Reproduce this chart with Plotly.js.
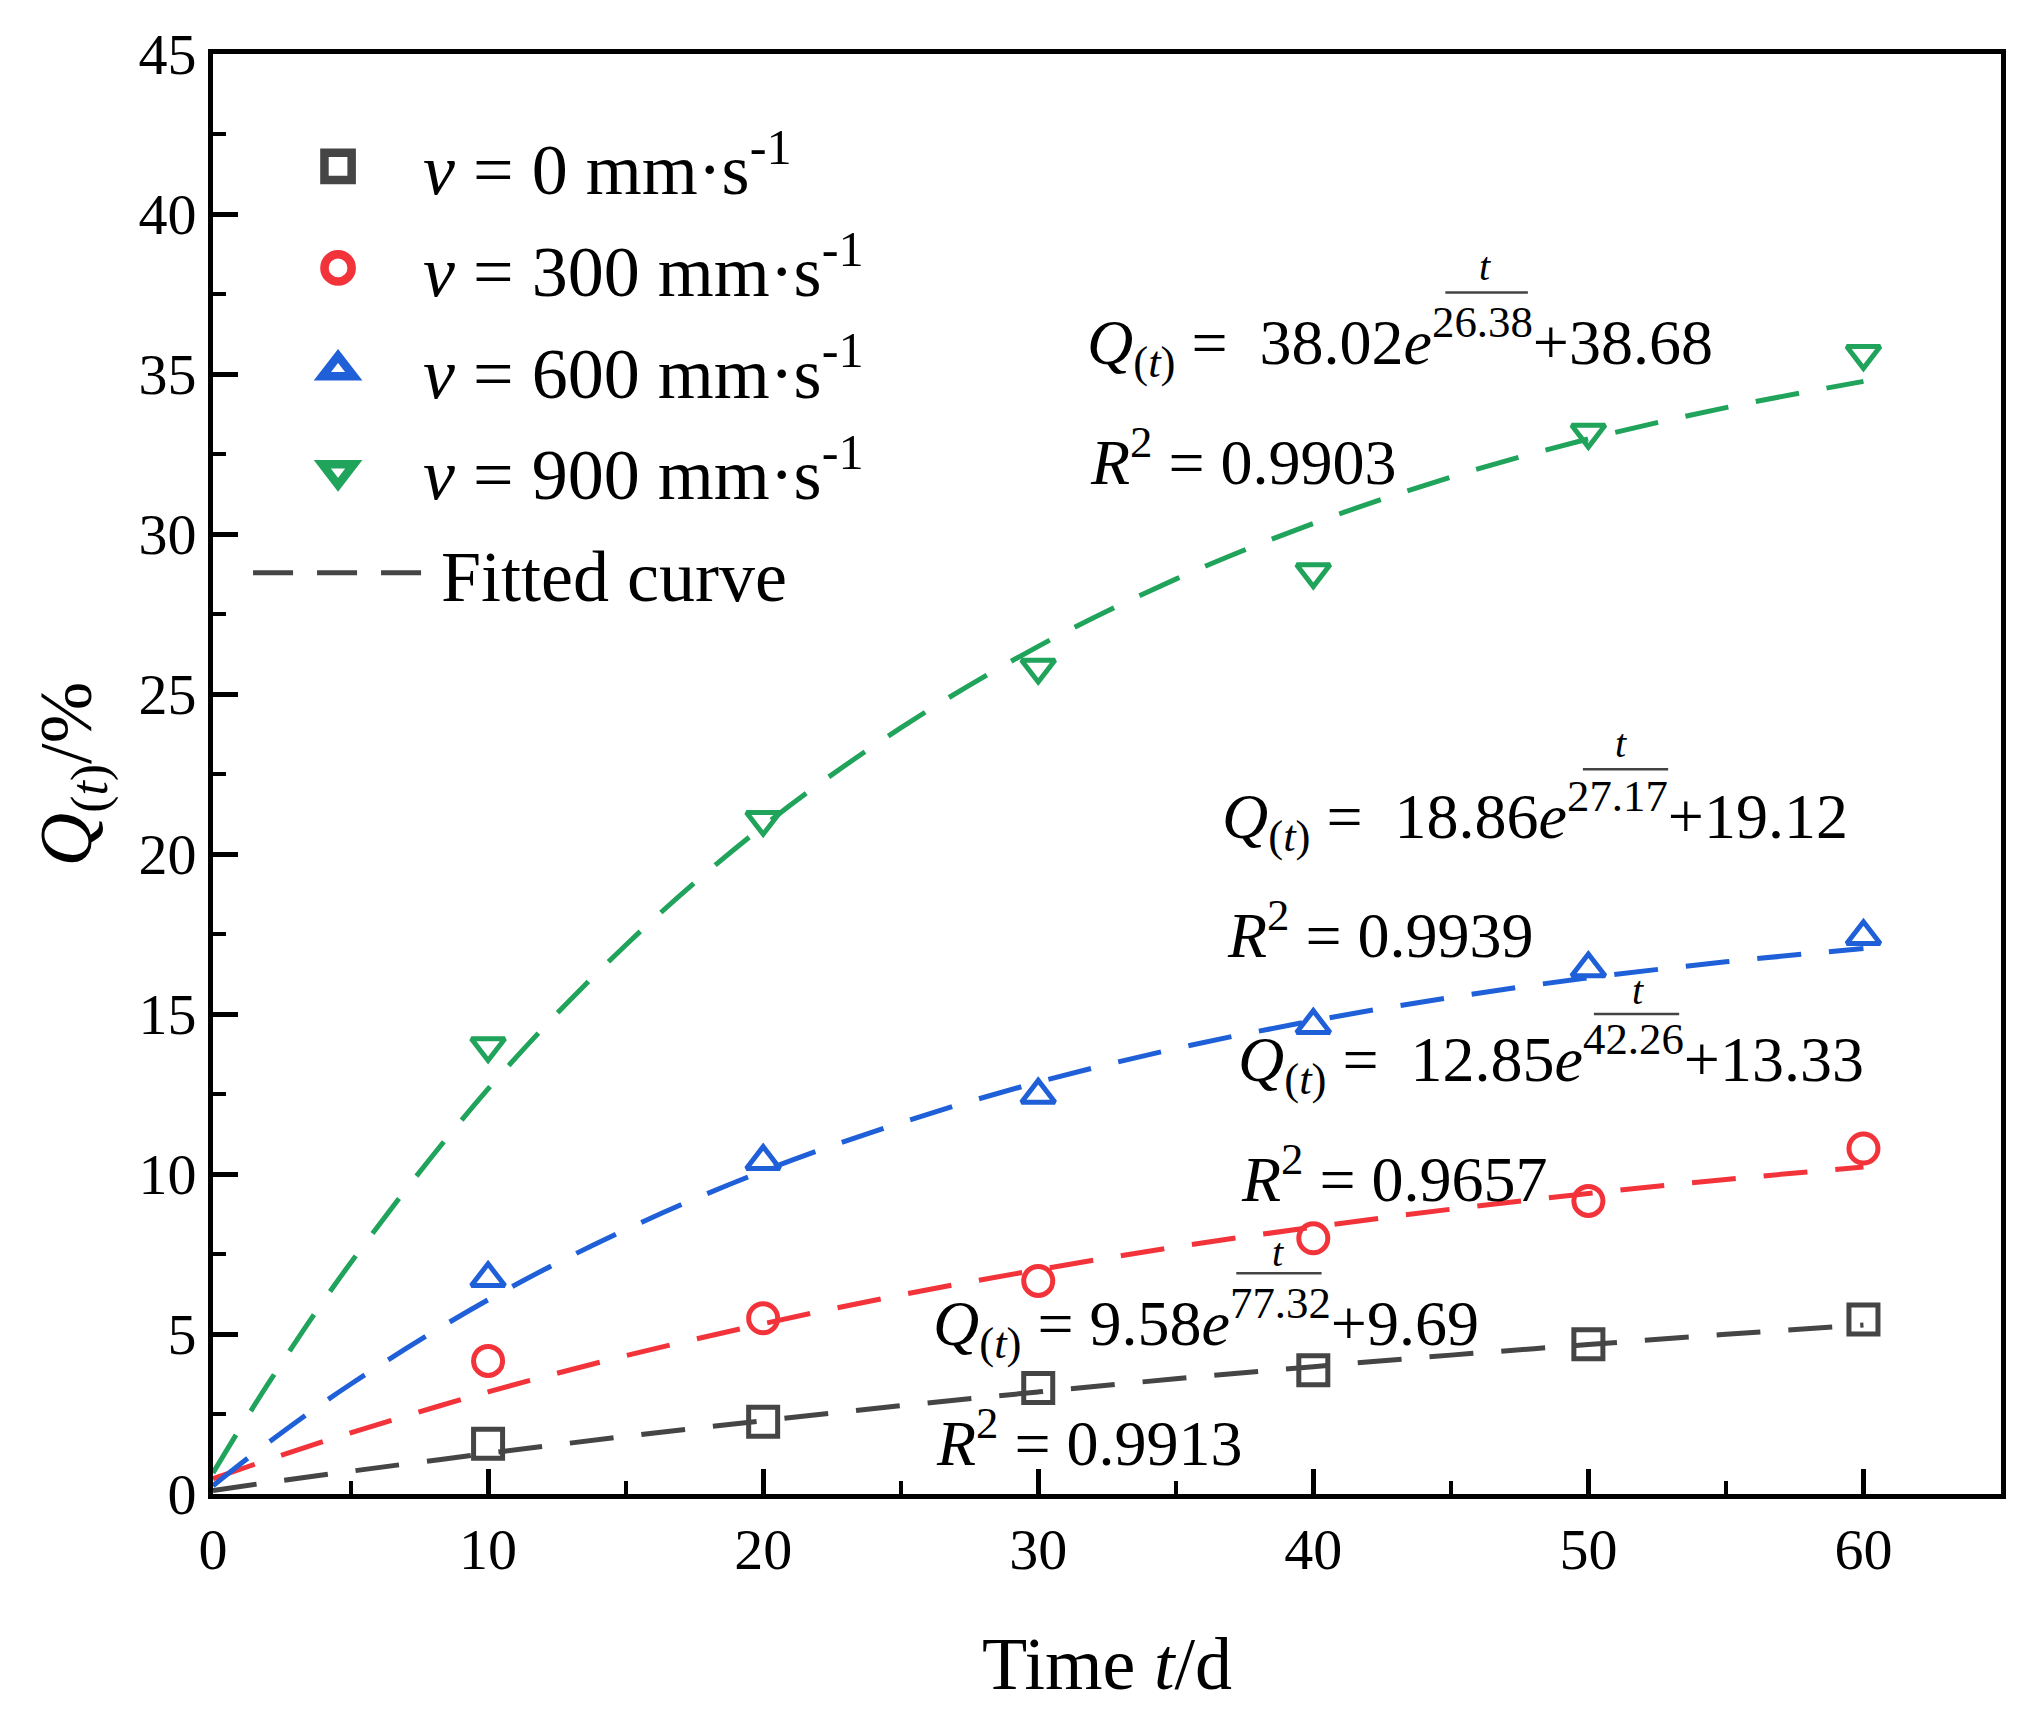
<!DOCTYPE html>
<html>
<head>
<meta charset="utf-8">
<script src="https://cdn.plot.ly/plotly-3.0.1.min.js"></script>
<style>body{margin:0;background:#fff;}</style>
</head>
<body>
<div id="chart" style="width:2024px;height:1713px;"></div>
<script>
// Measured data (time in days)
const days = [10, 20, 30, 40, 50, 60];
const q0   = [1.57, 2.26, 3.31, 3.87, 4.68, 5.45];
const q300 = [4.16, 5.49, 6.66, 7.99, 9.16, 10.80];
const q600 = [6.74, 10.40, 12.47, 14.65, 16.42, 17.43];
const q900 = [14.00, 21.07, 25.83, 28.81, 33.17, 35.63];

// Fitted curves
const fitT    = [0, 2, 5, 10, 15, 20, 25, 30, 35, 40, 45, 50, 55, 60];
const fit0    = [0.11, 0.36, 0.71, 1.27, 1.80, 2.29, 2.76, 3.19, 3.60, 3.98, 4.34, 4.67, 4.99, 5.28];
const fit300  = [0.48, 1.07, 1.91, 3.19, 4.32, 5.32, 6.22, 7.01, 7.72, 8.34, 8.90, 9.39, 9.83, 10.22];
const fit600  = [0.26, 1.60, 3.43, 6.07, 8.26, 10.09, 11.60, 12.87, 13.92, 14.79, 15.52, 16.13, 16.63, 17.05];
const fit900  = [0.66, 3.44, 7.22, 12.66, 17.15, 20.87, 23.94, 26.49, 28.59, 30.33, 31.78, 32.97, 33.95, 34.77];

const seriesNames = [
  '<i>v</i> = 0 mm·s<sup>-1</sup>',
  '<i>v</i> = 300 mm·s<sup>-1</sup>',
  '<i>v</i> = 600 mm·s<sup>-1</sup>',
  '<i>v</i> = 900 mm·s<sup>-1</sup>'
];
const fitLabel = '\u00A0Fitted curve';

// Equation texts
const eqCoefA = ['9.58', '12.85', '18.86', '38.02'];
const eqTau   = ['77.32', '42.26', '27.17', '26.38'];
const eqCoefB = ['9.69', '13.33', '19.12', '38.68'];
const eqR2    = ['0.9913', '0.9657', '0.9939', '0.9903'];

const colors = ['#454545', '#f2333a', '#1f60d8', '#20a35a'];
const symbols = ['square-open', 'circle-open', 'triangle-up-open', 'triangle-down-open'];
const dataSets = [q0, q300, q600, q900];
const fitSets = [fit0, fit300, fit600, fit900];

const FONT = 'Liberation Serif, Times New Roman, serif';
const traces = [];
for (let i = 0; i < 4; i++) {
  traces.push({
    x: fitT, y: fitSets[i], mode: 'lines', type: 'scatter',
    line: {color: colors[i], width: 5, dash: '44px,28px', shape: 'spline'},
    showlegend: false, hoverinfo: 'skip'
  });
}
for (let i = 0; i < 4; i++) {
  traces.push({
    x: days, y: dataSets[i], mode: 'markers', type: 'scatter',
    name: seriesNames[i], legendgroup: 'g' + i,
    marker: {symbol: symbols[i], size: 29, color: colors[i], line: {color: colors[i], width: 5}}
  });
}
traces.push({
  x: [null], y: [null], mode: 'lines', type: 'scatter', name: fitLabel, legendgroup: 'g4',
  line: {color: '#454545', width: 5, dash: '40px,24px'}
});

// annotation positions (data coords)
const eqPos = [[26.1, 5.34], [37.2, 13.6], [36.6, 21.2], [31.7, 36.0]];
const r2Pos = [[26.2, 1.72], [37.3, 9.97], [36.8, 17.6], [31.8, 32.4]];
const tPos  = [[38.7, 7.55], [51.8, 15.75], [51.2, 23.45], [46.25, 38.35]];
const barX  = [[37.2, 40.3], [50.2, 53.3], [49.8, 52.9], [44.8, 47.8]];
const barY  = [6.9, 15.0, 22.65, 37.55];

const annotations = [];
const shapes = [];
for (let i = 0; i < 4; i++) {
  const sp = (i === 0) ? '' : ' ';
  annotations.push({
    x: eqPos[i][0], y: eqPos[i][1], xref: 'x', yref: 'y', xanchor: 'left', yanchor: 'middle',
    showarrow: false, font: {family: FONT, size: 64, color: '#000'},
    text: '<i>Q</i><sub>(<i>t</i>)</sub> =' + sp + ' ' + eqCoefA[i] + '<i>e</i><sup>' + eqTau[i] + '</sup>+' + eqCoefB[i]
  });
  annotations.push({
    x: r2Pos[i][0], y: r2Pos[i][1], xref: 'x', yref: 'y', xanchor: 'left', yanchor: 'middle',
    showarrow: false, font: {family: FONT, size: 64, color: '#000'},
    text: '<i>R</i><sup>2</sup> = ' + eqR2[i]
  });
  annotations.push({
    x: tPos[i][0], y: tPos[i][1], xref: 'x', yref: 'y', xanchor: 'center', yanchor: 'middle',
    showarrow: false, font: {family: FONT, size: 40, color: '#000'},
    text: '<i>t</i>'
  });
  shapes.push({
    type: 'line', xref: 'x', yref: 'y', x0: barX[i][0], x1: barX[i][1], y0: barY[i], y1: barY[i],
    line: {color: '#444', width: 2.5}
  });
}

const layout = {
  width: 2024, height: 1713,
  margin: {l: 213, r: 23, t: 54, b: 219},
  paper_bgcolor: '#fff', plot_bgcolor: '#fff',
  font: {family: FONT, color: '#000', size: 58},
  showlegend: true,
  legend: {
    x: 0.0224, y: 0.959, xanchor: 'left', yanchor: 'top',
    font: {family: FONT, size: 72, color: '#000'},
    bgcolor: 'rgba(0,0,0,0)', tracegroupgap: 5, itemwidth: 160
  },
  xaxis: {
    range: [0, 65], dtick: 10, tick0: 0, showgrid: false, zeroline: false,
    ticks: 'inside', ticklen: 25, tickwidth: 5, tickcolor: '#000',
    showline: true, linewidth: 5, linecolor: '#000', mirror: true,
    tickfont: {family: FONT, size: 58, color: '#000'},
    minor: {ticks: 'inside', ticklen: 13, tickwidth: 4, dtick: 5, tickcolor: '#000'},
    title: {text: 'Time <i>t</i>/d', font: {family: FONT, size: 74, color: '#000'}, standoff: 58}
  },
  yaxis: {
    range: [0, 45], dtick: 5, tick0: 0, showgrid: false, zeroline: false,
    ticks: 'inside', ticklen: 25, tickwidth: 5, tickcolor: '#000',
    showline: true, linewidth: 5, linecolor: '#000', mirror: true,
    tickfont: {family: FONT, size: 58, color: '#000'},
    minor: {ticks: 'inside', ticklen: 13, tickwidth: 4, dtick: 2.5, tickcolor: '#000'},
    title: {text: '<i>Q</i><sub>(<i>t</i>)</sub>/%', font: {family: FONT, size: 74, color: '#000'}, standoff: 24}
  },
  annotations: annotations,
  shapes: shapes
};

Plotly.newPlot('chart', traces, layout, {displayModeBar: false, staticPlot: true}).then(function (gd) {
  // enlarge legend symbols to match the reference
  gd.querySelectorAll('.legend .legendpoints path.scatterpts').forEach(function (p) {
    const tr = p.getAttribute('transform') || '';
    p.setAttribute('transform', tr + ' scale(1.7)');
  });
  gd.querySelectorAll('.legend .legendlines path').forEach(function (p) {
    p.setAttribute('d', 'M0,0h170');
  });
});
</script>
</body>
</html>
